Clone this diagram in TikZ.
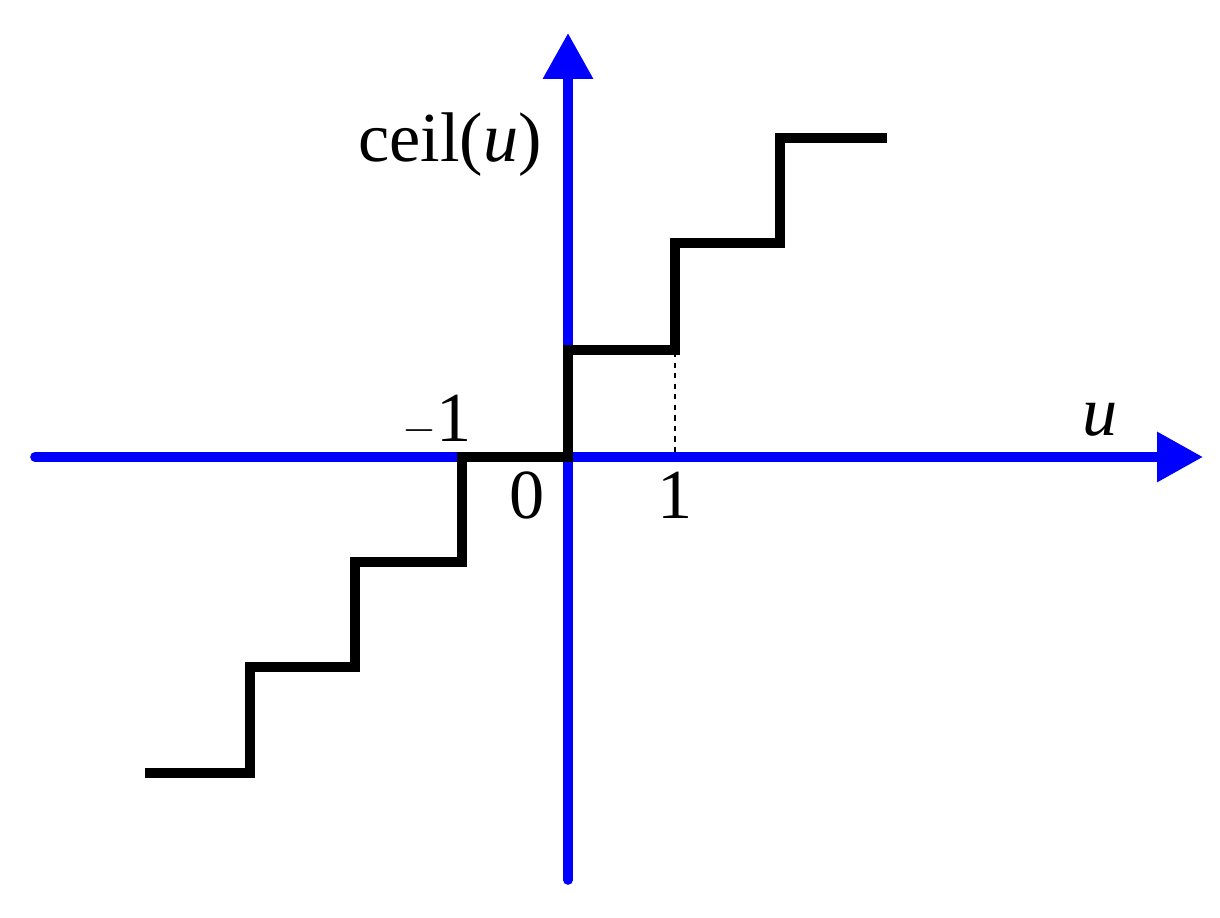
\documentclass[tikz,border=0pt]{standalone}
\usepackage{fontspec}
\setmainfont{Liberation Serif}
\usetikzlibrary{arrows.meta}
\begin{document}
\begin{tikzpicture}[x=0.02cm,y=-0.02cm,
  axis/.style={blue,line width=5.5pt,-{Triangle[length=46*0.02cm,width=48*0.02cm]}},
  stair/.style={black,line width=5.5pt},
  lbl/.style={font=\fontsize{40}{42}\selectfont,inner sep=0pt}]
\useasboundingbox (0,0) rectangle (1220,918);
\coordinate (xs) at (35,457); \coordinate (xe) at (1203,457);
\coordinate (ys) at (568,880); \coordinate (ye) at (568,33);
\draw[axis,line cap=round] (xs) -- (xe);
\draw[axis,line cap=round] (ys) -- (ye);
\draw[stair] (145,773) -- (250,773) -- (250,667) -- (355,667) -- (355,562) -- (462,562) -- (462,457) -- (568,457) -- (568,350) -- (675,350) -- (675,243) -- (780,243) -- (780,138) -- (887,138);
\coordinate (d1) at (675,352); \coordinate (d2) at (675,457);
\draw[black,line width=1.6pt,dashed] (d1) -- (d2);
\node[lbl] (cl) at (450,145) {ceil(\textit{u})};
\node[lbl] (ul) at (1100,420) {\textit{u}};
\node[lbl] (m1) at (437,420) {$-$1};
\node[lbl] (z) at (527,495) {0};
\node[lbl] (o) at (675,495) {1};
\end{tikzpicture}
\end{document}
